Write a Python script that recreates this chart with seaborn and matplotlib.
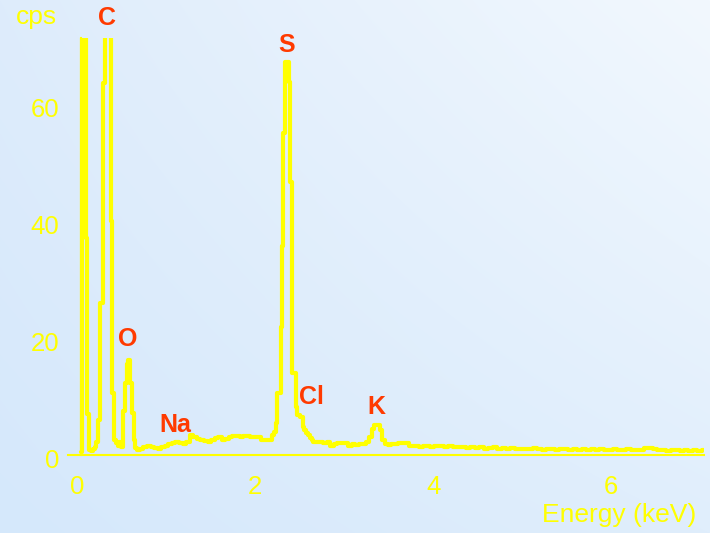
import numpy as np
import pandas as pd
import matplotlib
matplotlib.use("Agg")
import matplotlib.pyplot as plt
import matplotlib.transforms as mtransforms
from matplotlib.ticker import FixedLocator, FixedFormatter, MultipleLocator
import seaborn as sns

# ---------------- data ----------------
energy_kev = [
    0.00, 0.02, 0.04, 0.06, 0.08, 0.10, 0.12, 0.14, 0.16, 0.18, 0.20, 0.22, 0.24, 0.26, 0.28, 0.30,
    0.32, 0.34, 0.36, 0.38, 0.40, 0.42, 0.44, 0.46, 0.48, 0.50, 0.52, 0.54, 0.56, 0.58, 0.60, 0.62, 0.64,
    0.68, 0.72, 0.76, 0.80, 0.84, 0.88, 0.92, 0.96, 1.00, 1.04, 1.08, 1.12, 1.16, 1.20, 1.24, 1.28,
    1.32, 1.36, 1.40, 1.44, 1.48, 1.52, 1.56, 1.60, 1.64, 1.68, 1.72, 1.76, 1.80, 1.84, 1.88, 1.92,
    1.96, 2.00, 2.04, 2.08, 2.12, 2.16, 2.18,
    2.20, 2.21, 2.22, 2.23, 2.24, 2.25, 2.26, 2.27, 2.28, 2.29, 2.30, 2.31, 2.32, 2.33, 2.34, 2.35,
    2.36, 2.37, 2.38, 2.39, 2.40, 2.41, 2.42, 2.43, 2.44, 2.45, 2.46, 2.48, 2.50, 2.52, 2.54, 2.56,
    2.58, 2.60, 2.62,
    2.66, 2.70, 2.74, 2.78, 2.82, 2.86, 2.90, 2.94, 2.98, 3.02, 3.06, 3.10, 3.14, 3.18, 3.22, 3.25,
    3.28, 3.31, 3.34, 3.37, 3.40, 3.43, 3.46, 3.50, 3.54, 3.58, 3.62, 3.66, 3.70, 3.74, 3.78, 3.82,
    3.86, 3.90, 3.94, 3.98,
    4.05, 4.10, 4.15, 4.20, 4.25, 4.30, 4.35, 4.40, 4.45, 4.50, 4.55, 4.60, 4.65, 4.70, 4.75, 4.80,
    4.85, 4.90, 4.95, 5.00, 5.05, 5.10, 5.15, 5.20, 5.25, 5.30, 5.35, 5.40, 5.45, 5.50, 5.55, 5.60,
    5.65, 5.70, 5.75, 5.80, 5.85, 5.90, 5.95, 6.00, 6.05, 6.10, 6.15, 6.20, 6.25, 6.30, 6.35, 6.40,
    6.45, 6.50, 6.55, 6.60, 6.65, 6.70, 6.75, 6.80, 6.85, 6.90, 6.95, 7.00,
]
counts_cps = [
    0.5, 85, 85, 37, 7, 0.8, 0.6, 1.0, 1.4, 2.2, 6.0, 26, 26, 63.5, 85, 85,
    85, 40, 10.5, 2.5, 2.0, 1.6, 2.2, 1.3, 7.5, 12.3, 15.6, 16.2, 12.3, 7.2, 2.6, 1.2, 0.9,
    1.0, 1.3, 1.5, 1.3, 1.2, 1.0, 1.3, 1.5, 1.8, 2.0, 2.2, 2.0, 1.8, 2.3, 3.4, 3.0,
    2.7, 2.6, 2.4, 2.3, 2.6, 2.9, 3.1, 2.5, 2.7, 3.1, 3.2, 3.3, 3.1, 3.2, 3.2, 3.0,
    3.1, 3.0, 2.5, 2.6, 2.5, 3.4, 4.0,
    5.5, 10.6, 10.6, 10.6, 10.6, 21.9, 35.6, 55, 55, 55, 67, 67, 67, 67, 63.6, 46.5,
    46.5, 28.7, 14, 14, 14, 14, 8.2, 6.8, 6.8, 6.8, 6.5, 6.5, 4.8, 4.3, 3.8, 3.4,
    2.9, 2.6, 2.3,
    2.2, 2.3, 2.1, 2.2, 1.5, 1.8, 2.1, 2.0, 2.1, 1.5, 1.8, 1.7, 1.9, 1.8, 2.3, 3.0,
    4.5, 5.1, 5.1, 4.2, 2.6, 1.8, 1.7, 1.8, 1.8, 2.1, 2.0, 2.1, 1.6, 1.5, 1.6, 1.4,
    1.5, 1.6, 1.4, 1.5,
    1.5, 1.4, 1.6, 1.3, 1.4, 1.3, 1.2, 1.4, 1.2, 1.3, 1.1, 1.2, 1.3, 1.1, 1.2, 1.0,
    1.2, 1.1, 1.0, 1.1, 1.0, 1.2, 1.0, 0.9, 1.1, 1.0, 0.9, 1.0, 1.1, 0.9, 1.0, 0.9,
    1.0, 0.8, 1.0, 0.9, 1.0, 0.8, 0.9, 1.0, 0.8, 0.9, 1.0, 0.8, 0.9, 0.9, 1.2, 1.2,
    1.1, 0.8, 0.9, 0.7, 0.8, 0.8, 0.7, 0.8, 0.7, 0.8, 0.7, 0.8,
]

element_labels = ["C", "O", "Na", "S", "Cl", "K"]
element_x = [0.285, 0.52, 1.06, 2.31, 2.59, 3.32]
element_y = [73.4, 18.6, 3.9, 68.8, 8.7, 7.0]

x_tick_values = [0, 1, 2, 3, 4, 5, 6, 7]
x_tick_labels = ["0", "", "2", "", "4", "", "6", ""]
y_tick_values = [0, 10, 20, 30, 40, 50, 60, 70]
y_tick_labels = ["0", "", "20", "", "40", "", "60", ""]

x_title = "Energy (keV)"
y_title = "cps"

# ---------------- style ----------------
sns.set_theme(style="white")
plt.rcParams["font.family"] = ["Liberation Sans", "DejaVu Sans"]

YELLOW = "#FFFF00"
RED = "#FF3A00"

W, H = 710, 533
fig = plt.figure(figsize=(W / 100, H / 100), dpi=100)

# background gradient
bg = fig.add_axes([0, 0, 1, 1], zorder=0)
c_bl = np.array([213, 232, 251]) / 255
c_tl = np.array([222, 236, 251]) / 255
c_br = np.array([224, 238, 252]) / 255
c_tr = np.array([242, 248, 254]) / 255
u = np.linspace(0, 1, W)[None, :, None]
v = np.linspace(1, 0, H)[:, None, None]  # 1 at top
img = (c_bl * (1 - u) * (1 - v) + c_br * u * (1 - v) + c_tl * (1 - u) * v + c_tr * u * v)
bg.imshow(img, aspect="auto", extent=[0, 1, 0, 1], interpolation="bilinear")
bg.set_axis_off()

ax = fig.add_axes([68 / W, (H - 455) / H, 636 / W, (455 - 38.3) / H], zorder=1)
ax.patch.set_alpha(0)

df = pd.DataFrame({"energy": energy_kev, "cps": counts_cps})
sns.lineplot(data=df, x="energy", y="cps", ax=ax, color=YELLOW, linewidth=3.0,
             drawstyle="steps-mid", estimator=None, sort=True)

ax.set_xlim(-0.148, 7.0)
ax.set_ylim(0, 71.1)
ax.set_xlabel("")
ax.set_ylabel("")

for s in ["top", "right"]:
    ax.spines[s].set_visible(False)
ax.spines["left"].set_position(("data", 0))
for s in ["left", "bottom"]:
    ax.spines[s].set_color(YELLOW)
    ax.spines[s].set_linewidth(1.5)

ax.xaxis.set_major_locator(FixedLocator(x_tick_values))
ax.xaxis.set_major_formatter(FixedFormatter(x_tick_labels))
ax.xaxis.set_minor_locator(MultipleLocator(0.2))
ax.yaxis.set_major_locator(FixedLocator(y_tick_values))
ax.yaxis.set_major_formatter(FixedFormatter(y_tick_labels))
ax.yaxis.set_minor_locator(MultipleLocator(2))

ax.tick_params(axis="both", which="both", direction="out", colors=YELLOW,
               labelcolor=YELLOW, labelsize=18.5)
ax.tick_params(axis="x", which="major", length=9.4, width=1.2, pad=5)
ax.tick_params(axis="x", which="minor", length=3.6, width=1.0)
ax.tick_params(axis="y", which="major", length=8, width=1.2, pad=8)
ax.tick_params(axis="y", which="minor", length=4.5, width=1.0)

for lab, ex, ey in zip(element_labels, element_x, element_y):
    ax.text(ex, ey, lab, color=RED, fontsize=18, fontweight="bold",
            ha="center", va="baseline", clip_on=False)

fig.text(36 / W, 1 - 17 / H, y_title, color=YELLOW, fontsize=19, ha="center", va="center")
fig.text(619 / W, 1 - 515 / H, x_title, color=YELLOW, fontsize=19, ha="center", va="center")

fig.canvas.draw()
# medium-length ticks at odd positions
for t, val in zip(ax.xaxis.get_major_ticks(), x_tick_values):
    if val % 2 == 1:
        t.tick1line.set_markersize(6)
for t, val in zip(ax.yaxis.get_major_ticks(), y_tick_values):
    if val % 20 == 10:
        t.tick1line.set_markersize(6)
# small offsets of tick labels as in the reference
offx = mtransforms.ScaledTranslation(-4 / 100, 0, fig.dpi_scale_trans)
for lbl in ax.get_xticklabels():
    lbl.set_transform(lbl.get_transform() + offx)
offy = mtransforms.ScaledTranslation(0, -4 / 100, fig.dpi_scale_trans)
for lbl in ax.get_yticklabels():
    lbl.set_transform(lbl.get_transform() + offy)

fig.savefig("out.png", dpi=100)
